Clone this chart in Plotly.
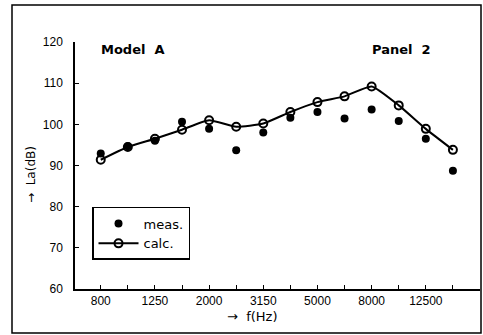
import plotly.graph_objects as go

bands = [800, 1000, 1250, 1600, 2000, 2500, 3150, 4000, 5000, 6300, 8000, 10000, 12500, 16000]
tick_labels = ["800", "", "1250", "", "2000", "", "3150", "", "5000", "", "8000", "", "12500", ""]
meas = [92.9, 94.7, 96.0, 100.6, 98.9, 93.7, 98.0, 101.6, 103.0, 101.4, 103.6, 100.8, 96.5, 88.7]
calc = [91.4, 94.5, 96.5, 98.7, 101.0, 99.4, 100.2, 103.0, 105.4, 106.8, 109.2, 104.6, 98.9, 93.8]

idx = list(range(len(bands)))
FONT = "Liberation Sans, Arial, sans-serif"
WIDE = "DejaVu Sans, Verdana, sans-serif"

fig = go.Figure()
fig.add_trace(go.Scatter(
    x=idx, y=meas, mode="markers", name="meas.",
    marker=dict(symbol="circle", size=8, color="black"),
))
fig.add_trace(go.Scatter(
    x=idx, y=calc, mode="lines+markers", name="calc.",
    line=dict(color="black", width=2, shape="spline", smoothing=0.5),
    marker=dict(symbol="circle-open", size=8, color="black", line=dict(width=2)),
))

fig.update_layout(
    width=483, height=335,
    margin=dict(l=75, r=3, t=42, b=46),
    paper_bgcolor="white", plot_bgcolor="white",
    font=dict(family=FONT, size=12, color="black"),
    showlegend=True,
    legend=dict(
        x=0.042, y=0.332, xanchor="left", yanchor="top",
        bordercolor="black", borderwidth=1.5, bgcolor="white",
        font=dict(size=13, family=WIDE), itemwidth=40,
        tracegroupgap=0,
    ),
    xaxis=dict(
        range=[-0.95, 14.0], tickmode="array", tickvals=idx, ticktext=tick_labels,
        ticks="inside", ticklen=4, tickcolor="black", showgrid=False, zeroline=False,
        showline=True, linecolor="black", linewidth=1.5,
        tickfont=dict(size=12, family=FONT),
    ),
    yaxis=dict(
        range=[60, 120], tickmode="array", tickvals=[60, 70, 80, 90, 100, 110, 120],
        ticks="inside", ticklen=4, tickcolor="black", showgrid=False, zeroline=False,
        showline=True, linecolor="black", linewidth=1.5, ticklabelstandoff=8,
        tickfont=dict(size=12, family=FONT),
    ),
)


def px(x):
    return (x - 75) / 405


def py(y):
    return (289 - y) / 247


def note(text, x, y, size=13, angle=0, family=WIDE):
    fig.add_annotation(text=text, x=px(x), y=py(y), xref="paper", yref="paper",
                       xanchor="center", yanchor="middle", showarrow=False,
                       textangle=angle, font=dict(size=size, family=family))


note("<b>Model  A</b>", 133, 50)
note("<b>Panel  2</b>", 401, 50)
note("→  f(Hz)", 252, 316)
note("→  La(dB)", 31, 175, size=12, angle=-90)

# outer frame
fig.add_shape(type="rect", xref="paper", yref="paper",
              x0=px(12), x1=px(481), y0=py(333), y1=py(5),
              line=dict(color="black", width=1.5))

fig.write_html("out.html")
